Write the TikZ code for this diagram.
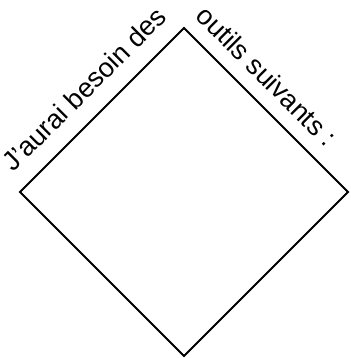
\documentclass[tikz,border=0pt]{standalone}
\usepackage{fontspec}
\setmainfont{Liberation Sans}
\usepackage{tikz}

\begin{document}
\begin{tikzpicture}[x=1pt, y=1pt,
  rim/.style={draw, line width=2pt, line join=miter},
  lbl/.style={font=\fontsize{27}{30}\selectfont, sloped, anchor=base, inner sep=0pt}]
\useasboundingbox (0,0) rectangle (350,358);
\coordinate (top) at (184,330);
\coordinate (left) at (20,166);
\coordinate (right) at (348,166);
\coordinate (bottom) at (184,2);
\draw[rim] (left) -- (top) -- (right) -- (bottom) -- cycle;
\path (left) -- (top) node[lbl, pos=0.51, yshift=18pt] (besoin) {J'aurai besoin des};
\path (top) -- (right) node[lbl, pos=0.40, yshift=15pt] (outils) {outils suivants :};
\end{tikzpicture}
\end{document}
